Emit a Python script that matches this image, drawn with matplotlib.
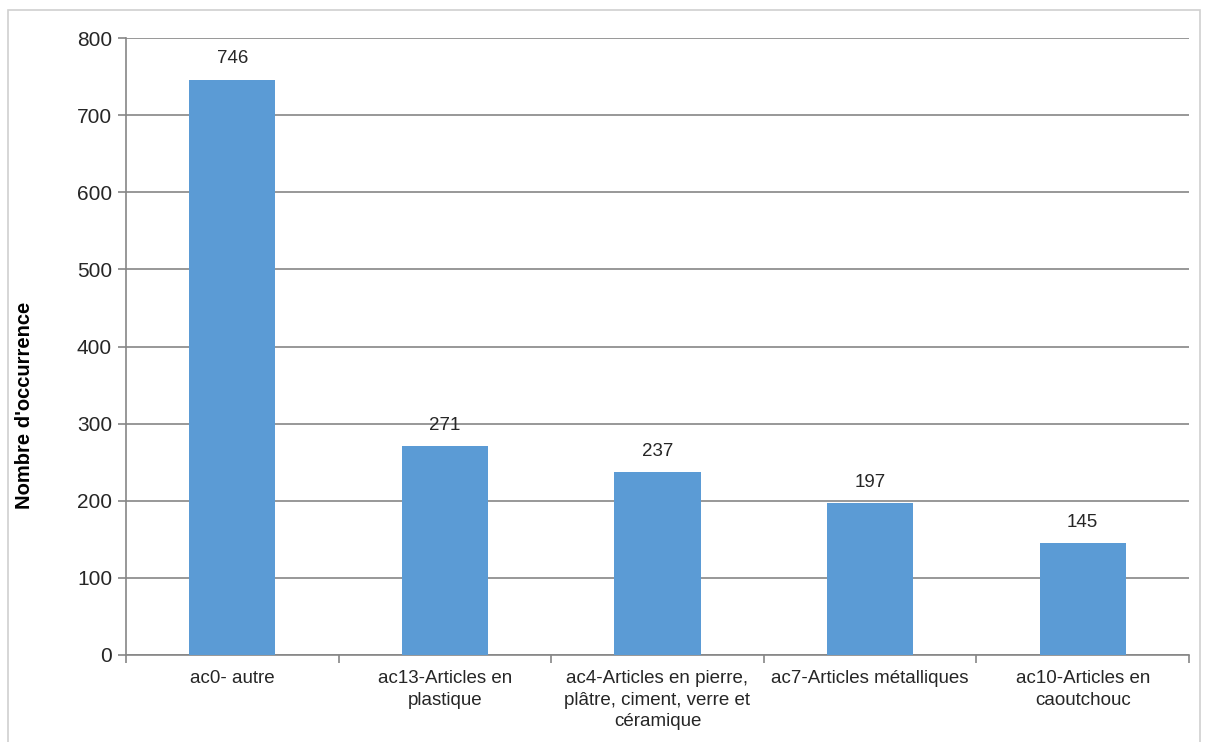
import matplotlib
matplotlib.use("Agg")
import matplotlib.pyplot as plt
import matplotlib.patches as patches

plt.rcParams["font.family"] = ["Liberation Sans", "DejaVu Sans"]

# données
categories = ["ac0- autre", "ac13-Articles en\nplastique",
              "ac4-Articles en pierre,\nplâtre, ciment, verre et\ncéramique",
              "ac7-Articles métalliques", "ac10-Articles en\ncaoutchouc"]
valeurs = [746, 271, 237, 197, 145]
yticks = [0, 100, 200, 300, 400, 500, 600, 700, 800]

fig = plt.figure(figsize=(12.06, 7.42), dpi=100)
ax = fig.add_axes([126 / 1206, 1 - 655 / 742, (1189 - 126) / 1206, (655 - 38) / 742])

# cadre gris autour du graphique
fig.patches.append(patches.Rectangle((8 / 1206, -0.05), (1200 - 8) / 1206, 1.05 - 10 / 742,
                                     transform=fig.transFigure, fill=False,
                                     edgecolor="#d0d0d0", linewidth=1.2))

x = range(len(categories))
bars = ax.bar(x, valeurs, width=0.405, color="#5b9bd5", zorder=3)
for b, v in zip(bars, valeurs):
    ax.text(b.get_x() + b.get_width() / 2, v + 27, str(v), ha="center", va="center",
            fontsize=13.5, color="#262626")

ax.set_xlim(-0.5, len(categories) - 0.5)
ax.set_ylim(0, 800)
ax.set_yticks(yticks)
ax.set_yticklabels([str(t) for t in yticks], fontsize=15, color="#262626")
ax.set_xticks(list(x))
ax.set_xticklabels(categories, fontsize=13.5, color="#262626", linespacing=1.33)
ax.set_xticks([i - 0.5 for i in range(len(categories) + 1)], minor=True)
ax.tick_params(axis="x", which="major", length=0, pad=11)
ax.tick_params(axis="x", which="minor", length=6, color="#868686", width=1.2)
ax.tick_params(axis="y", length=6, color="#868686", width=1.2, pad=4)

ax.grid(axis="y", color="#868686", linewidth=1.2, zorder=0)
for s in ["top", "right"]:
    ax.spines[s].set_visible(False)
for s in ["left", "bottom"]:
    ax.spines[s].set_color("#868686")
    ax.spines[s].set_linewidth(1.2)

ax.set_ylabel("Nombre d'occurrence", fontsize=14.5, fontweight="bold")
ax.yaxis.set_label_coords((34 - 126) / 1063, (655 - 405) / 617)

fig.savefig("out.png", dpi=100)
